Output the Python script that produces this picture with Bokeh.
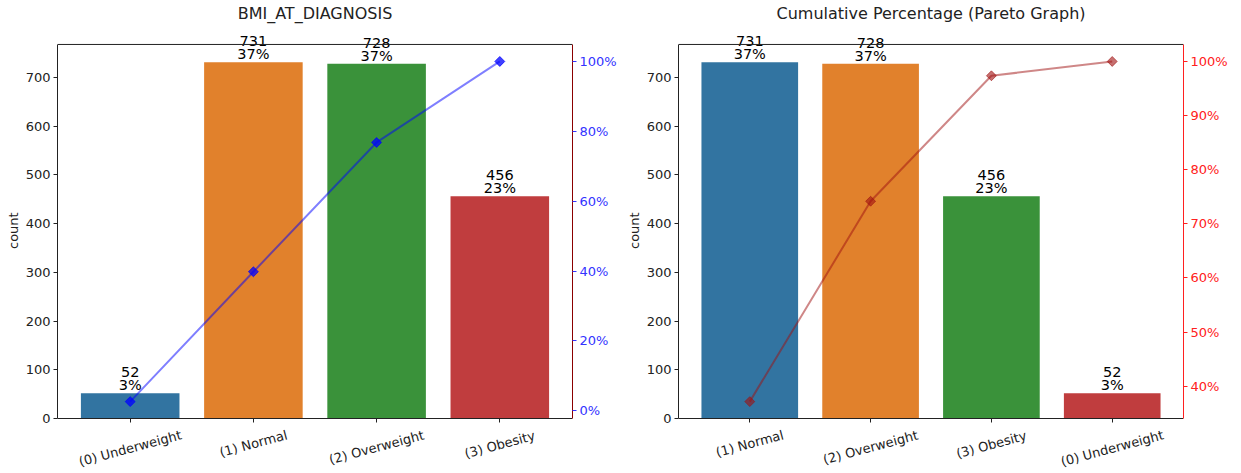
import numpy as np
from bokeh.plotting import figure
from bokeh.models import (ColumnDataSource, Range1d, FactorRange, LinearAxis,
                          Label, Span, Title, FixedTicker, PrintfTickFormatter)
from bokeh.layouts import row
from bokeh.embed import file_html
from bokeh.resources import INLINE

# ---- data ----
categories = ["(0) Underweight", "(1) Normal", "(2) Overweight", "(3) Obesity"]
counts = [52, 731, 728, 456]
bar_colors = ["#3274a1", "#e1812c", "#3a923a", "#c03d3e"]
count_ticks = [0, 100, 200, 300, 400, 500, 600, 700]
left_pct_ticks = [0, 20, 40, 60, 80, 100]
right_pct_ticks = [40, 50, 60, 70, 80, 90, 100]

FONT = "DejaVu Sans"
TXT = "#222222"

# ---- layout geometry (pixels) ----
TITLE_H = 22      # space above the plotting frame for the title
PAD_TOP = 21      # frame top -> axes box top (room for bar annotations)
AX_H = 375        # axes box height
PAD_BOT = 52      # axes box bottom -> frame bottom (room for category labels)
FIG_H = TITLE_H + PAD_TOP + AX_H + PAD_BOT
TICK_FS = 13


def make(title, cats, vals, line_color, tick_color, spine_color, pct_ticks,
         width, b_left, b_right, marker_alpha):
    total = sum(counts)
    share = [v / total * 100 for v in vals]
    cum = list(np.cumsum(vals) / total * 100)
    src = ColumnDataSource(dict(cat=cats, count=vals, color=bar_colors, cum=cum))

    ytop = max(vals) * 1.05
    upp = ytop / AX_H
    lo, hi = min(cum), max(cum)
    pad = (hi - lo) * 0.05
    plo, phi = lo - pad, hi + pad
    pupp = (phi - plo) / AX_H

    p = figure(x_range=FactorRange(factors=cats, range_padding=0.045),
               y_range=Range1d(-PAD_BOT * upp, ytop + PAD_TOP * upp),
               title=title, width=width, height=FIG_H,
               min_border_left=b_left, min_border_right=b_right,
               min_border_top=TITLE_H, min_border_bottom=0,
               output_backend="svg", toolbar_location=None)
    p.extra_y_ranges = {"pct": Range1d(plo - PAD_BOT * pupp, phi + PAD_TOP * pupp)}

    p.vbar(x="cat", top="count", width=0.8, color="color", line_color=None,
           source=src)
    p.line(x="cat", y="cum", y_range_name="pct", source=src,
           line_color=line_color, line_alpha=0.5, line_width=2)
    p.scatter(x="cat", y="cum", y_range_name="pct", source=src,
              marker="square", angle=np.pi / 4, size=7,
              fill_color=line_color, line_color=line_color,
              fill_alpha=marker_alpha, line_alpha=marker_alpha)

    # bar annotations; categorical centre of factor i is at synthetic x = i + 0.5
    ang = np.pi / 12
    for i, (c, v, s) in enumerate(zip(cats, vals, share)):
        xc = i + 0.5
        p.add_layout(Label(x=xc, y=v, text=f"{s:.0f}%", text_align="center",
                           text_baseline="bottom", y_offset=0,
                           text_font_size="14.5px", text_font=FONT,
                           text_color="black"))
        p.add_layout(Label(x=xc, y=v, text=f"{v}", text_align="center",
                           text_baseline="bottom", y_offset=16,
                           text_font_size="14.5px", text_font=FONT,
                           text_color="black"))
        # rotated category label centred below its tick (matplotlib style)
        w_est = 0.55 * TICK_FS * len(c)
        bbox_h = w_est * np.sin(ang) + TICK_FS * np.cos(ang)
        p.add_layout(Label(x=xc, y=0, text=c, text_align="center",
                           text_baseline="middle",
                           y_offset=-(9.5 + bbox_h / 2),
                           angle=ang, text_font_size=f"{TICK_FS}px",
                           text_font=FONT, text_color=TXT))

    # x axis drawn at y = 0 inside the frame, labels supplied above
    xa = p.xaxis[0]
    xa.fixed_location = 0
    xa.axis_line_color = TXT
    xa.major_tick_line_color = TXT
    xa.major_tick_in = 0
    xa.major_tick_out = 4
    xa.minor_tick_line_color = None
    xa.major_label_text_color = None

    # left count axis limited to the axes box
    ya = p.yaxis[0]
    ya.bounds = (0, ytop)
    ya.ticker = FixedTicker(ticks=count_ticks)
    ya.axis_line_color = TXT
    ya.major_tick_line_color = TXT
    ya.major_tick_in = 0
    ya.major_tick_out = 4
    ya.major_label_standoff = 3
    ya.minor_tick_line_color = None
    ya.major_label_text_font = FONT
    ya.major_label_text_font_size = f"{TICK_FS}px"
    ya.major_label_text_color = TXT

    # y label centred on the axes box (not on the taller frame)
    p.add_layout(Title(text="count", align="left", offset=PAD_BOT + AX_H / 2 - 18,
                       text_font=FONT, text_font_size=f"{TICK_FS}px",
                       text_font_style="normal", text_color=TXT, standoff=4),
                 "left")

    ax = LinearAxis(y_range_name="pct", ticker=FixedTicker(ticks=pct_ticks),
                    formatter=PrintfTickFormatter(format="%d%%"),
                    bounds=(plo, phi))
    ax.axis_line_color = spine_color
    ax.major_tick_line_color = tick_color
    ax.major_label_text_color = tick_color
    ax.major_tick_in = 0
    ax.major_tick_out = 4
    ax.major_label_standoff = 3
    ax.minor_tick_line_color = None
    ax.major_label_text_font = FONT
    ax.major_label_text_font_size = f"{TICK_FS}px"
    p.add_layout(ax, "right")

    # top spine of the axes box
    p.add_layout(Span(location=ytop, dimension="width", line_color=TXT,
                      line_width=1))

    p.xgrid.visible = False
    p.ygrid.visible = False
    p.outline_line_color = None

    p.title.align = "center"
    p.title.text_font = FONT
    p.title.text_font_size = "16px"
    p.title.text_font_style = "normal"
    p.title.text_color = TXT
    p.title.standoff = 2
    return p


p1 = make("BMI_AT_DIAGNOSIS", categories, counts, "blue", "#3333ff",
          "darkred", left_pct_ticks, 622, 57, 50, 0.75)

order = sorted(range(len(counts)), key=lambda i: -counts[i])
cats_sorted = [categories[i] for i in order]
counts_sorted = [counts[i] for i in order]
p2 = make("Cumulative Percentage (Pareto Graph)", cats_sorted, counts_sorted,
          "#a01010", "#ff2020", "#ff2020", right_pct_ticks, 608, 50, 44, 0.6)

layout = row(p1, p2)
open("out.html", "w").write(file_html(layout, INLINE))
